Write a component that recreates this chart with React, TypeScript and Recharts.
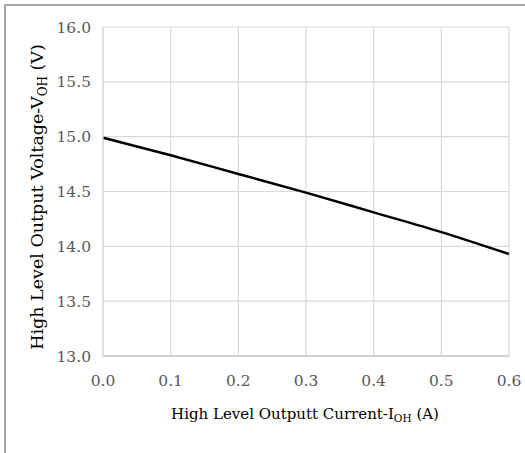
import { LineChart, Line, XAxis, YAxis, CartesianGrid } from 'recharts';

// Output current (A) and the matching high-level output voltage (V)
const currentA = [0, 0.1, 0.2, 0.3, 0.4, 0.5, 0.6];
const voltageV = [14.99, 14.83, 14.66, 14.49, 14.31, 14.13, 13.93];

const xTicks = [0, 0.1, 0.2, 0.3, 0.4, 0.5, 0.6];
const yTicks = [13, 13.5, 14, 14.5, 15, 15.5, 16];

const FONT = '"DejaVu Serif", serif';

const data = currentA.map((c, i) => ({ current: c, voltage: voltageV[i] }));

// axis title with an "OH" subscript in the middle
function XTitle({ viewBox }: any) {
  const cx = viewBox.x + viewBox.width / 2 - 1;
  return (
    <text x={cx} y={419} textAnchor="middle" fontFamily={FONT} fontSize={15} fill="#000">
      <tspan>High Level Outputt Current-I</tspan>
      <tspan fontSize={10.5} dy={3}>OH</tspan>
      <tspan dy={-3}> (A)</tspan>
    </text>
  );
}

function YTitle() {
  const cy = 197;
  const cx = 43;
  return (
    <text
      x={cx}
      y={cy}
      textAnchor="middle"
      transform={`rotate(-90 ${cx} ${cy})`}
      fontFamily={FONT}
      fontSize={17.5}
      fill="#000"
    >
      <tspan>High Level Output Voltage-V</tspan>
      <tspan fontSize={12} dy={3.5}>OH</tspan>
      <tspan dy={-3.5}> (V)</tspan>
    </text>
  );
}

export default function App() {
  return (
    <div style={{ position: 'absolute', left: 0, top: 0, width: 525, height: 453, background: '#fff' }}>
      {/* frame lines along the top and left edge */}
      <div
        style={{
          position: 'absolute',
          left: 4,
          top: 4,
          right: 0,
          bottom: 0,
          borderTop: '2px solid #a6a6a6',
          borderLeft: '2px solid #a6a6a6',
        }}
      />
      <LineChart
        width={525}
        height={453}
        data={data}
        margin={{ top: 27, right: 16, bottom: 0, left: 0 }}
        style={{ position: 'absolute', left: 0, top: 0 }}
      >
        <CartesianGrid stroke="#d9d9d9" strokeWidth={1.2} />
        <XAxis
          dataKey="current"
          type="number"
          domain={[0, 0.6]}
          ticks={xTicks}
          tickFormatter={(v: number) => v.toFixed(1)}
          tickLine={false}
          tickSize={0}
          tickMargin={19}
          height={97}
          axisLine={{ stroke: '#c8c8c8', strokeWidth: 1.5 }}
          tick={{ fill: '#595959', fontFamily: FONT, fontSize: 15.5 }}
          interval={0}
          label={<XTitle />}
        />
        <YAxis
          type="number"
          domain={[13, 16]}
          ticks={yTicks}
          tickFormatter={(v: number) => v.toFixed(1)}
          tickLine={false}
          tickSize={0}
          tickMargin={12}
          width={103}
          axisLine={{ stroke: '#d9d9d9', strokeWidth: 1.2 }}
          tick={{ fill: '#595959', fontFamily: FONT, fontSize: 15.5 }}
          interval={0}
          label={<YTitle />}
        />
        <Line
          dataKey="voltage"
          type="monotone"
          stroke="#000"
          strokeWidth={2.5}
          dot={false}
          isAnimationActive={false}
        />
      </LineChart>
    </div>
  );
}
